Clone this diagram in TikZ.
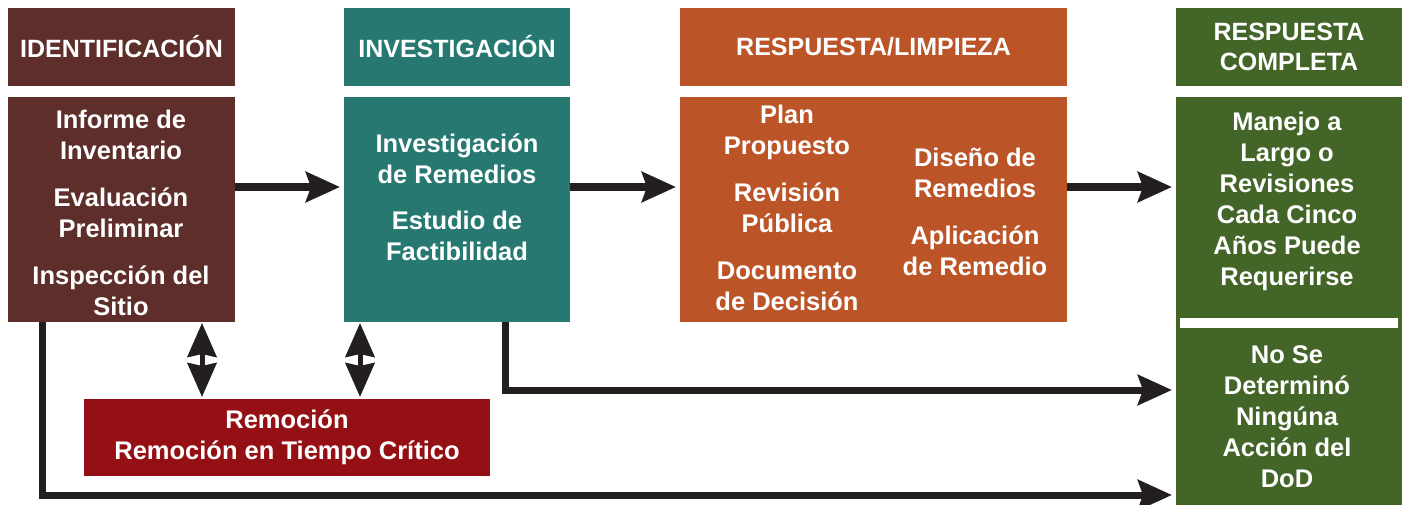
\documentclass[tikz,border=0pt]{standalone}
\usepackage{fontspec}
\setmainfont{Liberation Sans}
\usetikzlibrary{arrows.meta}
\definecolor{cid}{HTML}{5E2E2B}
\definecolor{cinv}{HTML}{267870}
\definecolor{cresp}{HTML}{BB5427}
\definecolor{cgreen}{HTML}{436527}
\definecolor{crem}{HTML}{941015}
\definecolor{carr}{HTML}{231F20}
\begin{document}
\begin{tikzpicture}[x=1pt,y=-1pt,
  box/.style={draw=none, inner sep=0pt, outer sep=0pt, anchor=north west, text=white, align=center,
    font=\bfseries\fontsize{25}{31}\selectfont},
  txt/.style={text=white, font=\bfseries\fontsize{25.5}{31}\selectfont, align=center, inner sep=0pt},
  tipA/.tip={Stealth[length=34pt,width=30pt,inset=5pt]},
  tipB/.tip={Stealth[length=34pt,width=29pt,inset=3pt]},
  flow/.style={draw=carr, line width=8pt, -tipA},
  route/.style={draw=carr, line width=7pt, line join=miter, -tipA},
  dbl/.style={draw=carr, line width=5pt, tipB-tipB},
]
\useasboundingbox (0,0) rectangle (1404,505);
% headers
\node[box, fill=cid, minimum width=227pt, minimum height=78pt] (idh) at (8,8) {IDENTIFICACIÓN};
\node[box, fill=cinv, minimum width=226pt, minimum height=78pt] (invh) at (344,8) {INVESTIGACIÓN};
\node[box, fill=cresp, minimum width=387pt, minimum height=78pt] (resh) at (680,8) {RESPUESTA/LIMPIEZA};
\node[box, fill=cgreen, minimum width=226pt, minimum height=78pt, font=\bfseries\fontsize{25}{30}\selectfont] (grh) at (1176,8) {RESPUESTA\\COMPLETA};
% bodies
\node[box, fill=cid, minimum width=227pt, minimum height=225pt] (idb) at (8,97) {};
\node[box, fill=cinv, minimum width=226pt, minimum height=225pt] (invb) at (344,97) {};
\node[box, fill=cresp, minimum width=387pt, minimum height=225pt] (resb) at (680,97) {};
\node[box, fill=cgreen, minimum width=226pt, minimum height=408pt] (grb) at (1176,97) {};
\fill[white] (1180,318) rectangle (1398,328);
\node[box, fill=crem, minimum width=406pt, minimum height=77pt, font=\bfseries\fontsize{25.5}{31}\selectfont] (rem) at (84,399) {Remoción\\Remoción en Tiempo Crítico};
% body texts
\node[txt] (t1) at (121,213) {Informe de\\Inventario\\[16pt]Evaluación\\Preliminar\\[16pt]Inspección del\\Sitio};
\node[txt] (t2) at (457,197) {Investigación\\de Remedios\\[15pt]Estudio de\\Factibilidad};
\node[txt] (t3) at (787,208) {Plan\\Propuesto\\[16pt]Revisión\\Pública\\[16pt]Documento\\de Decisión};
\node[txt] (t4) at (975,212) {Diseño de\\Remedios\\[16pt]Aplicación\\de Remedio};
\node[txt] (t5) at (1287,201) {Manejo a\\Largo o\\Revisiones\\Cada Cinco\\Años Puede\\Requerirse};
\node[txt] (t6) at (1287,417) {No Se\\Determinó\\Ningúna\\Acción del\\DoD};
% routing coordinates
\coordinate (r1) at (0,187);
\coordinate (r2) at (0,390);
\coordinate (r3) at (0,495);
\coordinate (l1) at (42,0);
\coordinate (m1) at (505,0);
\coordinate (d1) at (202,0);
\coordinate (d2) at (360,0);
% connectors
\draw[flow, shorten >=4pt] (idb.east |- r1) -- (invb.west |- r1);
\draw[flow, shorten >=4pt] (invb.east |- r1) -- (resb.west |- r1);
\draw[flow, shorten >=4pt] (resb.east |- r1) -- (grb.west |- r1);
\draw[route, shorten >=4pt] (idb.south -| l1) -- (l1 |- r3) -- (grb.west |- r3);
\draw[route, shorten >=4pt] (invb.south -| m1) -- (m1 |- r2) -- (grb.west |- r2);
\draw[dbl, shorten <=1pt, shorten >=2pt] (idb.south -| d1) -- (rem.north -| d1);
\draw[dbl, shorten <=1pt, shorten >=2pt] (invb.south -| d2) -- (rem.north -| d2);
\end{tikzpicture}
\end{document}
